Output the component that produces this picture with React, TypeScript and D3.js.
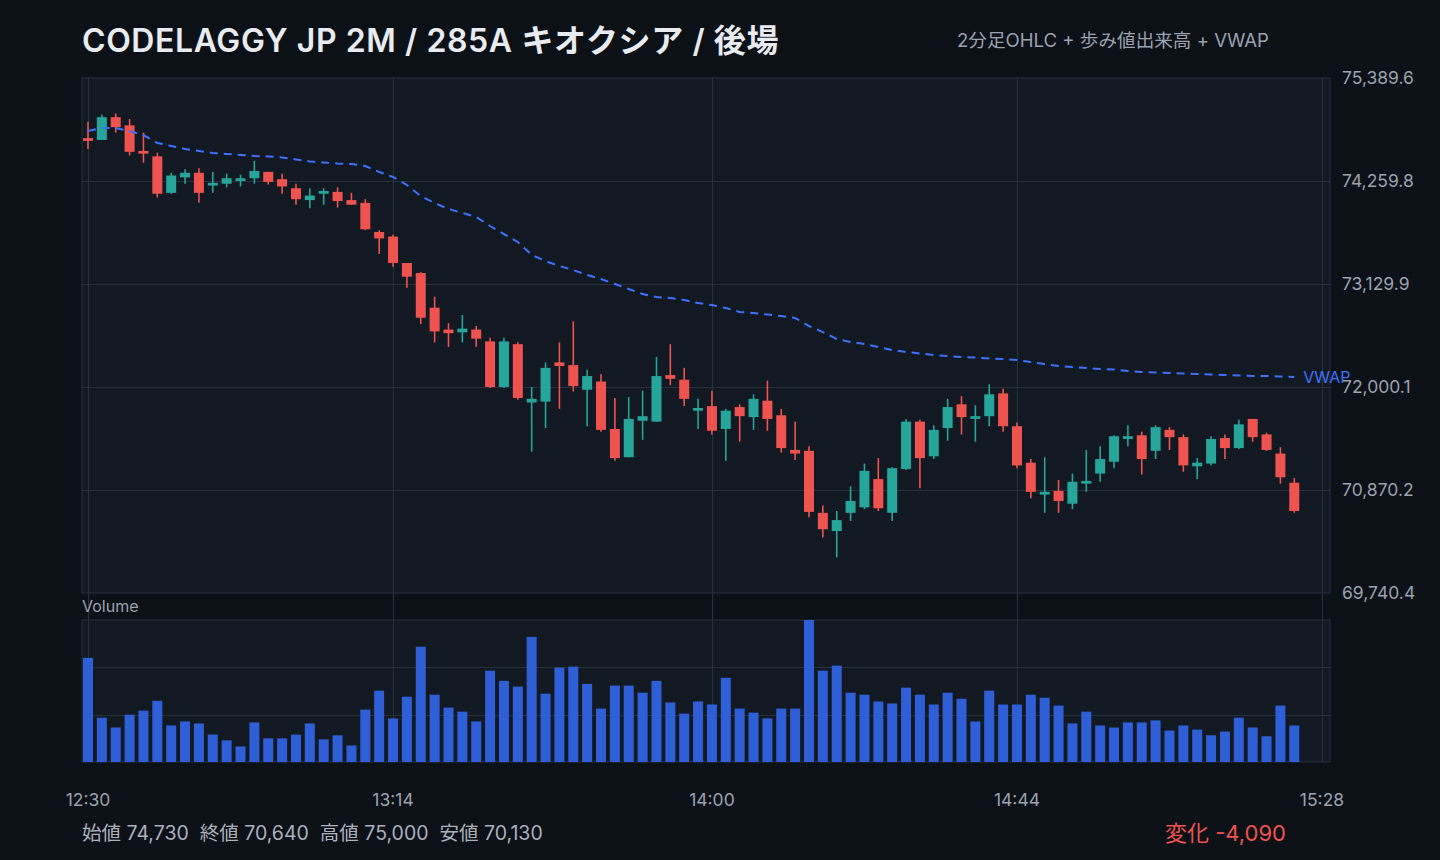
import React from "react";
import * as d3 from "d3";

// ---- Data (2-minute candles, 後場 12:30〜) ----
const opens = [74730,74710,74960,74870,74590,74530,74130,74300,74350,74210,74230,74260,74290,74360,74280,74180,74050,74120,74140,74050,74020,73700,73650,73360,73250,72870,72630,72600,72630,72500,72000,72470,71830,71840,72270,72240,71970,72060,71540,71230,71630,71620,72130,72080,71740,71790,71540,71780,71670,71850,71690,71310,71300,70620,70420,70620,70680,70990,70620,71100,71620,71240,71550,71810,71650,71680,71930,71570,71170,70820,70860,70720,70940,71050,71180,71430,71470,71300,71530,71450,71130,71160,71440,71330,71650,71480,71270,70950];
const highs = [74910,74990,75000,74940,74790,74570,74350,74390,74400,74360,74340,74330,74480,74360,74340,74230,74180,74180,74190,74130,74060,73720,73670,73360,73260,72990,72700,72790,72670,72540,72540,72490,72000,72270,72490,72720,72190,72140,71880,71890,71960,72330,72470,72210,71870,71960,71760,71810,71920,72070,71760,71620,71350,70700,70640,70910,71160,71220,71120,71650,71640,71580,71870,71900,71800,72030,71980,71610,71210,71230,70980,71050,71310,71350,71470,71580,71510,71580,71560,71480,71220,71460,71480,71640,71650,71500,71340,71000];
const lows = [74610,74710,74790,74540,74460,74080,74120,74230,74020,74130,74190,74200,74230,74220,74120,74000,73960,74000,73970,74000,73720,73460,73320,73090,72690,72490,72440,72490,72440,71990,71990,71860,71290,71550,71760,71950,71570,71510,71190,71230,71420,71620,72020,71790,71540,71480,71190,71400,71530,71520,71280,71200,70570,70350,70130,70530,70660,70640,70530,71090,70890,71210,71410,71480,71400,71570,71510,71110,70780,70620,70620,70660,70850,70960,71110,71350,71040,71210,71310,71070,70990,71140,71210,71320,71400,71300,70940,70620];
const closes = [74700,74960,74850,74580,74560,74120,74320,74350,74130,74240,74290,74290,74370,74250,74200,74060,74100,74150,74040,74000,73730,73630,73360,73210,72760,72610,72590,72640,72530,72000,72500,71880,71870,72210,72230,72010,72120,71530,71220,71650,71680,72120,72090,71870,71770,71520,71740,71680,71870,71650,71330,71270,70630,70440,70540,70750,71080,70670,71110,71620,71220,71530,71780,71670,71680,71920,71570,71140,70850,70850,70750,70960,70970,71210,71460,71460,71210,71560,71450,71140,71170,71430,71330,71590,71450,71310,71010,70640];
const volumes = [30800,13100,10200,14000,15200,18100,10800,12000,11400,8100,6400,4600,11700,7000,7000,8100,11400,6700,7900,4900,15500,21100,12900,19300,34100,19900,16100,14900,12000,27000,24000,22300,37000,20200,27900,28200,23100,15800,22600,22600,20500,24000,17600,14300,17900,17000,24900,15800,14600,12900,15800,15800,42000,27000,28500,20500,19900,17900,17300,22000,19900,17000,20500,18700,12000,21100,17000,17000,19900,19000,16700,11400,14900,10800,10200,11700,11700,12300,9300,10800,9600,7900,9000,13100,10200,7600,16700,10800];
const vwap = [74808,74841,74841,74808,74764,74677,74644,74611,74589,74567,74556,74545,74534,74529,74518,74496,74474,74463,74452,74446,74424,74359,74304,74216,74095,74018,73953,73909,73865,73766,73678,73591,73448,73382,73327,73283,73229,73185,73130,73075,73020,72987,72976,72954,72921,72899,72867,72823,72812,72795,72779,72757,72669,72603,72527,72494,72472,72439,72406,72384,72368,72351,72340,72329,72324,72313,72307,72296,72274,72252,72230,72219,72208,72197,72192,72175,72164,72159,72154,72148,72143,72137,72132,72126,72121,72121,72115,72110];
const slotCount = 89; // 12:30 .. 15:28 in 2-minute slots
const startMinutes = 12 * 60 + 30;
const titleText = "CODELAGGY JP 2M / 285A キオクシア / 後場";
const subtitleText = "2分足OHLC + 歩み値出来高 + VWAP";

// ---- Style ----
const W = 1440, H = 860;
const BG = "#0c1017";
const PANEL = "#121922";
const GRID = "#28303b";
const UP = "#26a69a";
const DOWN = "#ef5350";
const VOL = "#2f5fd6";
const VWAPC = "#3d72ff";
const TEXT = "#9aa2ad";
const FONT = "Inter, 'Noto Sans CJK JP', 'Noto Sans', sans-serif";

const L = 82, R = 1330;
const MT = 78, MB = 593;
const VT = 620, VB = 762;

const fmtTime = (i: number) => {
  const m = startMinutes + i * 2;
  return `${Math.floor(m / 60)}:${String(m % 60).padStart(2, "0")}`;
};
const fmtInt = d3.format(",");
const fmt1 = d3.format(",.1f");

export default function App() {
  const n = opens.length;
  const hi = d3.max(highs) as number;
  const lo = d3.min(lows) as number;
  const pad = (hi - lo) * 0.08;
  const x = d3.scaleLinear().domain([0, slotCount]).range([88, 1322]);
  const y = d3.scaleLinear().domain([lo - pad, hi + pad]).range([MB, MT]);
  const vmax = d3.max(volumes) as number;
  const yv = d3.scaleLinear().domain([0, vmax]).range([VB, VT]);

  const xTicks = [0, 1, 2, 3, 4].map((k) => Math.round((k * slotCount) / 4));
  const yTicks = d3.range(6).map((k) => lo - pad + (k * (hi - lo + 2 * pad)) / 5);
  const vTicks = [1, 2].map((k) => (k * vmax) / 3);

  const bw = 10;
  const line = d3
    .line<number>()
    .x((_, i) => x(i))
    .y((d) => y(d));

  const first = opens[0];
  const last = closes[n - 1];
  const change = last - first;

  return (
    <div style={{ position: "fixed", left: 0, top: 0, width: W, height: H, background: BG }}>
      <svg width={W} height={H} style={{ display: "block", fontFamily: FONT }}>
        <rect x={0} y={0} width={W} height={H} fill={BG} />
        {/* Title */}
        <text x={82} y={52} fill="#e8ebf0" fontSize={32} fontWeight={600} letterSpacing={0.6} style={{ whiteSpace: "pre" }}>
          {titleText}
        </text>
        <text x={1269} y={47} fill={TEXT} fontSize={18.6} textAnchor="end">
          {subtitleText}
        </text>

        {/* Panels */}
        <rect x={L} y={MT} width={R - L} height={MB - MT} fill={PANEL} stroke={GRID} strokeWidth={1} />
        <rect x={L} y={VT} width={R - L} height={VB - VT} fill={PANEL} stroke={GRID} strokeWidth={1} />

        {/* Grid */}
        {yTicks.slice(1, -1).map((t, i) => (
          <line key={"gy" + i} x1={L} x2={R} y1={Math.round(y(t)) + 0.5} y2={Math.round(y(t)) + 0.5} stroke={GRID} />
        ))}
        {vTicks.map((t, i) => (
          <line key={"gv" + i} x1={L} x2={R} y1={Math.round(yv(t)) + 0.5} y2={Math.round(yv(t)) + 0.5} stroke={GRID} />
        ))}
        {xTicks.map((t, i) => (
          <line key={"gx" + i} x1={Math.round(x(t)) + 0.5} x2={Math.round(x(t)) + 0.5} y1={MT} y2={VB} stroke={GRID} />
        ))}

        {/* Candles */}
        {opens.map((o, i) => {
          const c = closes[i];
          const up = c >= o;
          const col = up ? UP : DOWN;
          const cx = x(i);
          const top = y(Math.max(o, c));
          const bot = y(Math.min(o, c));
          return (
            <g key={"c" + i}>
              <line x1={cx} x2={cx} y1={y(highs[i])} y2={y(lows[i])} stroke={col} strokeWidth={1.6} />
              <rect x={cx - bw / 2} y={top} width={bw} height={Math.max(2, bot - top)} fill={col} />
            </g>
          );
        })}

        {/* VWAP */}
        <path d={line(vwap) || ""} fill="none" stroke={VWAPC} strokeWidth={2} strokeDasharray="8 6" />
        <text x={x(n - 1) + 9} y={y(vwap[n - 1]) + 6} fill={VWAPC} fontSize={16}>
          VWAP
        </text>

        {/* Volume */}
        <text x={82} y={612} fill={TEXT} fontSize={16}>
          Volume
        </text>
        {volumes.map((v, i) => (
          <rect key={"v" + i} x={x(i) - bw / 2} y={yv(v)} width={bw} height={VB - yv(v)} fill={VOL} />
        ))}

        {/* Y axis labels */}
        {yTicks.map((t, i) => (
          <text key={"yl" + i} x={1342} y={y(t) + 6} fill={TEXT} fontSize={17.5}>
            {fmt1(t)}
          </text>
        ))}

        {/* X axis labels */}
        {xTicks.map((t, i) => (
          <text key={"xl" + i} x={x(t)} y={806} fill={TEXT} fontSize={17.5} textAnchor="middle">
            {fmtTime(t)}
          </text>
        ))}

        {/* Footer stats */}
        <text x={82} y={840} fill="#aab1ba" fontSize={19.5} style={{ whiteSpace: "pre" }}>
          {`始値 ${fmtInt(first)}  終値 ${fmtInt(last)}  高値 ${fmtInt(hi)}  安値 ${fmtInt(lo)}`}
        </text>
        <text x={1286} y={841} fill={DOWN} fontSize={22} textAnchor="end">
          {`変化 ${change >= 0 ? "+" : "-"}${fmtInt(Math.abs(change))}`}
        </text>
      </svg>
    </div>
  );
}
